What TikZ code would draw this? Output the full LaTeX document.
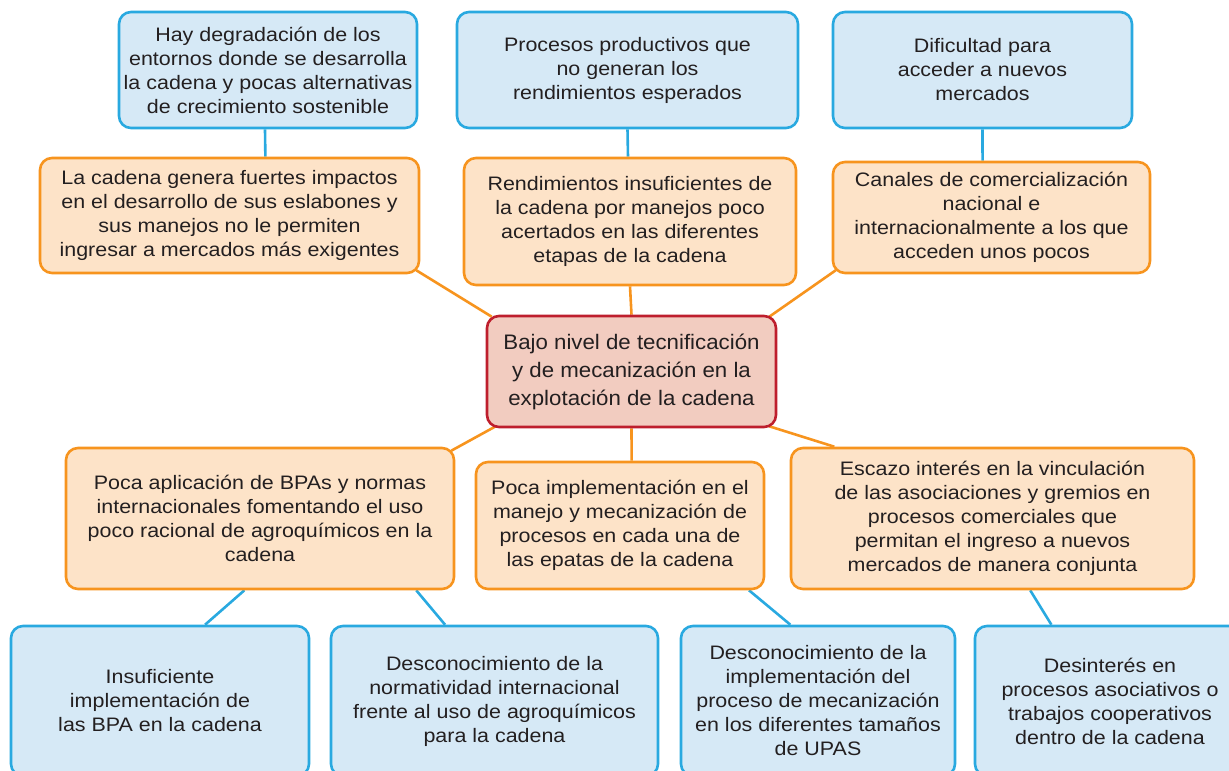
\documentclass[tikz,border=0pt]{standalone}
\usepackage{fontspec}
\setmainfont[FakeStretch=1.1]{Liberation Sans}
\newfontfamily\centerfont[FakeStretch=1.06]{Liberation Sans}
\usetikzlibrary{calc,backgrounds}
\definecolor{bluebd}{HTML}{29A9E0}
\definecolor{bluefl}{HTML}{D6E9F6}
\definecolor{orbd}{HTML}{F7941E}
\definecolor{orfl}{HTML}{FDE3C8}
\definecolor{redbd}{HTML}{BE1E2D}
\definecolor{redfl}{HTML}{F2CCC0}
\definecolor{txt}{HTML}{231F20}
\tikzset{
  box/.style={draw, line width=2.6pt, rounded corners=12pt, align=center, inner sep=0pt,
    text=txt, font=\fontsize{19.5}{24}\selectfont},
  bluebox/.style={box, draw=bluebd, fill=bluefl},
  orbox/.style={box, draw=orbd, fill=orfl},
  redbox/.style={box, draw=redbd, fill=redfl, font=\centerfont\fontsize{21}{28}\selectfont},
  blueline/.style={draw=bluebd, line width=2.6pt},
  orline/.style={draw=orbd, line width=2.6pt},
  sz/.style 2 args={minimum width=#1pt, minimum height=#2pt},
}
\begin{document}
\begin{tikzpicture}[x=1pt,y=-1pt]
\useasboundingbox (0,0) rectangle (1229,771);
\clip (0,0) rectangle (1229,771);
% top blue row
\node[bluebox, sz={298}{116}] (b1) at (268,70) {Hay degradación de los\\entornos donde se desarrolla\\la cadena y pocas alternativas\\de crecimiento sostenible};
\node[bluebox, sz={341}{116}] (b2) at (627.5,70) {Procesos productivos que\\no generan los\\rendimientos esperados};
\node[bluebox, sz={299}{116}] (b3) at (982.5,70) {Dificultad para\\acceder a nuevos\\mercados};
% orange upper row
\node[orbox, sz={379}{115}] (o1) at (229.5,215.5) {La cadena genera fuertes impactos\\en el desarrollo de sus eslabones y\\sus manejos no le permiten\\ingresar a mercados más exigentes};
\node[orbox, sz={332}{127}] (o2) at (630,221.5) {Rendimientos insuficientes de\\la cadena por manejos poco\\acertados en las diferentes\\etapas de la cadena};
\node[orbox, sz={317}{111}] (o3) at (991.5,217.5) {Canales de comercialización\\nacional e\\internacionalmente a los que\\acceden unos pocos};
% center
\node[redbox, sz={289}{111}] (c) at (631.5,371.5) {Bajo nivel de tecnificación\\y de mecanización en la\\explotación de la cadena};
% orange lower row
\node[orbox, sz={388}{141}] (o4) at (260,518.5) {Poca aplicación de BPAs y normas\\internacionales fomentando el uso\\poco racional de agroquímicos en la\\cadena};
\node[orbox, sz={288}{127}] (o5) at (620,525.5) {Poca implementación en el\\manejo y mecanización de\\procesos en cada una de\\las epatas de la cadena};
\node[orbox, sz={403}{141}] (o6) at (992.5,518.5) {Escazo interés en la vinculación\\de las asociaciones y gremios en\\procesos comerciales que\\permitan el ingreso a nuevos\\mercados de manera conjunta};
% bottom blue row
\node[bluebox, sz={298}{150}] (b4) at (160,701) {Insuficiente\\implementación de\\las BPA en la cadena};
\node[bluebox, sz={327}{150}] (b5) at (494.5,701) {Desconocimiento de la\\normatividad internacional\\frente al uso de agroquímicos\\para la cadena};
\node[bluebox, sz={274}{150}] (b6) at (818,701) {Desconocimiento de la\\implementación del\\proceso de mecanización\\en los diferentes tamaños\\de UPAS};
\node[bluebox, sz={270}{150}] (b7) at (1110,701) {Desinterés en\\procesos asociativos o\\trabajos cooperativos\\dentro de la cadena};
% connectors
\begin{scope}[on background layer]
\draw[blueline] ($(b1.south west)!0.49!(b1.south east)$) -- ($(o1.north west)!0.594!(o1.north east)$);
\draw[blueline] ($(b2.south west)!0.50!(b2.south east)$) -- ($(o2.north west)!0.494!(o2.north east)$);
\draw[blueline] ($(b3.south west)!0.50!(b3.south east)$) -- ($(o3.north west)!0.472!(o3.north east)$);
\draw[orline] ($(o1.south east)+(-4,-4)$) -- ($(c.north west)+(6,2)$);
\draw[orline] ($(o2.south west)!0.50!(o2.south east)$) -- ($(c.north west)!0.50!(c.north east)$);
\draw[orline] ($(o3.south west)+(4,-4)$) -- ($(c.north east)+(-8,2)$);
\draw[orline] ($(c.south west)+(10,-2)$) -- ($(o4.north east)+(-4,4)$);
\draw[orline] ($(c.south west)!0.50!(c.south east)$) -- ($(o5.north west)!0.54!(o5.north east)$);
\draw[orline] ($(c.south east)+(-8,-2)$) -- ($(o6.north west)!0.11!(o6.north east)$);
\draw[blueline] ($(o4.south west)!0.46!(o4.south east)$) -- ($(b4.north west)!0.65!(b4.north east)$);
\draw[blueline] ($(o4.south west)!0.90!(o4.south east)$) -- ($(b5.north west)!0.35!(b5.north east)$);
\draw[blueline] ($(o5.south west)!0.944!(o5.south east)$) -- ($(b6.north west)!0.40!(b6.north east)$);
\draw[blueline] ($(o6.south west)!0.593!(o6.south east)$) -- ($(b7.north west)!0.285!(b7.north east)$);
\end{scope}
\end{tikzpicture}
\end{document}
